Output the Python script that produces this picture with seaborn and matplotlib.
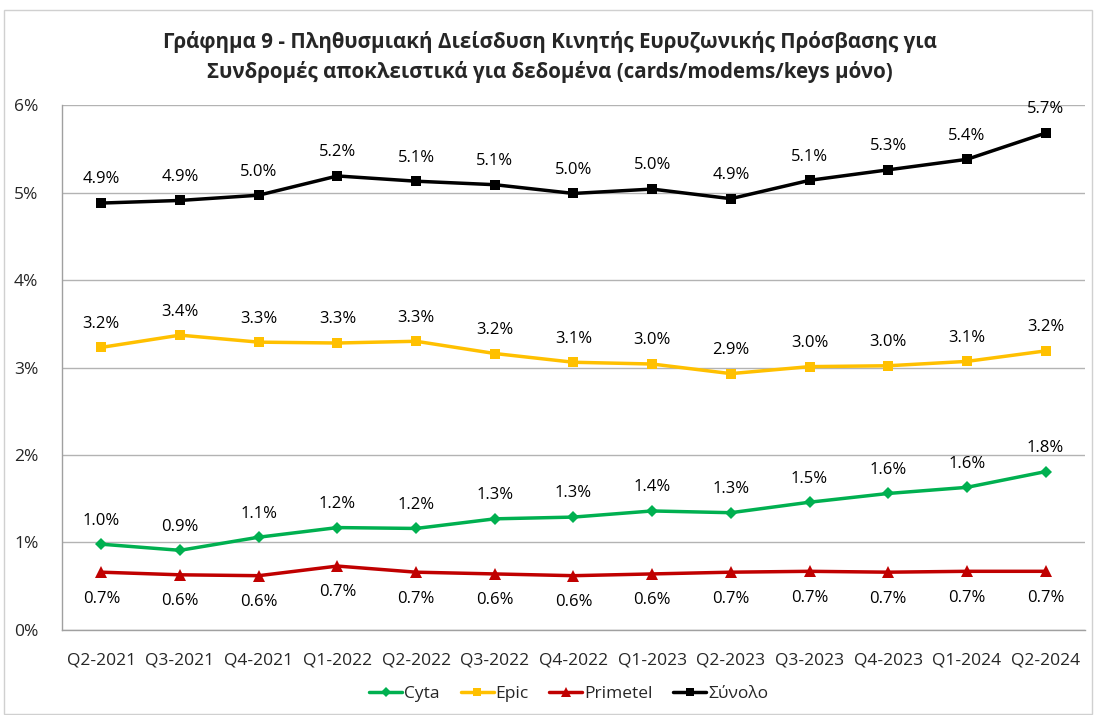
import pandas as pd
import matplotlib
matplotlib.use('Agg')
import matplotlib.pyplot as plt
import seaborn as sns
from matplotlib.lines import Line2D
from matplotlib.patches import Rectangle

QUARTERS = ['Q2-2021', 'Q3-2021', 'Q4-2021', 'Q1-2022', 'Q2-2022', 'Q3-2022', 'Q4-2022',
            'Q1-2023', 'Q2-2023', 'Q3-2023', 'Q4-2023', 'Q1-2024', 'Q2-2024']

CYTA = [0.98, 0.91, 1.06, 1.17, 1.16, 1.27, 1.29, 1.36, 1.34, 1.46, 1.56, 1.63, 1.81]
EPIC = [3.23, 3.37, 3.29, 3.28, 3.30, 3.16, 3.06, 3.04, 2.93, 3.01, 3.02, 3.07, 3.19]
PRIMETEL = [0.66, 0.63, 0.62, 0.73, 0.66, 0.64, 0.62, 0.64, 0.66, 0.67, 0.66, 0.67, 0.67]
TOTAL = [4.88, 4.91, 4.97, 5.19, 5.13, 5.09, 4.99, 5.04, 4.93, 5.14, 5.26, 5.38, 5.68]

SERIES = ['Cyta', 'Epic', 'Primetel', 'Σύνολο']
COLORS = {'Cyta': '#00B050', 'Epic': '#FFC000', 'Primetel': '#C00000', 'Σύνολο': '#000000'}
MARKERS = {'Cyta': 'D', 'Epic': 's', 'Primetel': '^', 'Σύνολο': 's'}
MSIZE = {'Cyta': 6, 'Epic': 7, 'Primetel': 8, 'Σύνολο': 7}
LABEL_OFFSET = {'Cyta': 17, 'Epic': 17, 'Primetel': -19, 'Σύνολο': 17}

TITLE = ('Γράφημα 9 - Πληθυσμιακή Διείσδυση Κινητής Ευρυζωνικής Πρόσβασης για\n'
         'Συνδρομές αποκλειστικά για δεδομένα (cards/modems/keys μόνο)')

sns.set_style('white')
plt.rcParams['font.family'] = ['Open Sans', 'DejaVu Sans']

rows = []
for name, vals in zip(SERIES, [CYTA, EPIC, PRIMETEL, TOTAL]):
    for i, v in enumerate(vals):
        rows.append({'pos': i, 'value': v, 'series': name})
df = pd.DataFrame(rows)

fig = plt.figure(figsize=(10.94, 7.15), dpi=100)
ax = fig.add_axes([0.0567, 0.119, 0.935, 0.734])

sns.lineplot(data=df, x='pos', y='value', hue='series', style='series',
             palette=COLORS, markers=MARKERS, dashes=False, sort=False,
             linewidth=2.5, markersize=7, markeredgewidth=0, legend=False, ax=ax)
# tweak marker sizes per series
for line, name in zip(ax.lines, SERIES):
    line.set_markersize(MSIZE[name])

for name, vals in zip(SERIES, [CYTA, EPIC, PRIMETEL, TOTAL]):
    for i, v in enumerate(vals):
        ax.annotate('{:.1f}%'.format(v), (i, v), xytext=(0, LABEL_OFFSET[name]),
                    textcoords='offset points', ha='center', va='center',
                    fontsize=12, color='#000000')

ax.set_xlim(-0.5, len(QUARTERS) - 0.5)
ax.set_ylim(0, 6)
ax.set_yticks(range(0, 7))
ax.set_yticklabels(['{}%'.format(t) for t in range(0, 7)], fontsize=12.5)
ax.set_xticks(range(len(QUARTERS)))
ax.set_xticklabels(QUARTERS, fontsize=12.5)
ax.set_xticks([i - 0.5 for i in range(len(QUARTERS) + 1)], minor=True)
ax.tick_params(axis='x', which='major', length=0, pad=16)
ax.tick_params(axis='x', which='minor', length=5, color='#A0A0A0', direction='out')
ax.tick_params(axis='y', length=5, color='#A0A0A0', direction='out', pad=12)
ax.set_xlabel('')
ax.set_ylabel('')
ax.grid(axis='y', color='#B3B3B3', linewidth=1)
ax.set_axisbelow(True)
for side in ['top', 'right']:
    ax.spines[side].set_visible(False)
for side in ['left', 'bottom']:
    ax.spines[side].set_color('#A0A0A0')
    ax.spines[side].set_linewidth(1)

fig.text(0.503, 0.92, TITLE, ha='center', va='center', fontsize=14.8,
         fontweight='bold', linespacing=1.45)

handles = [Line2D([0], [0], color=COLORS[n], marker=MARKERS[n], markersize=MSIZE[n] - 1,
                  markeredgewidth=0, linewidth=2.5) for n in SERIES]
fig.legend(handles, SERIES, loc='center', bbox_to_anchor=(0.52, 0.03), ncol=4,
           frameon=False, fontsize=12.5, handlelength=1.9, handletextpad=0.1,
           columnspacing=1.2)

fig.patches.append(Rectangle((0.004, 0.002), 0.994, 0.984, transform=fig.transFigure,
                             fill=False, edgecolor='#D0D0D0', linewidth=1))

fig.savefig('out.png', dpi=100)
